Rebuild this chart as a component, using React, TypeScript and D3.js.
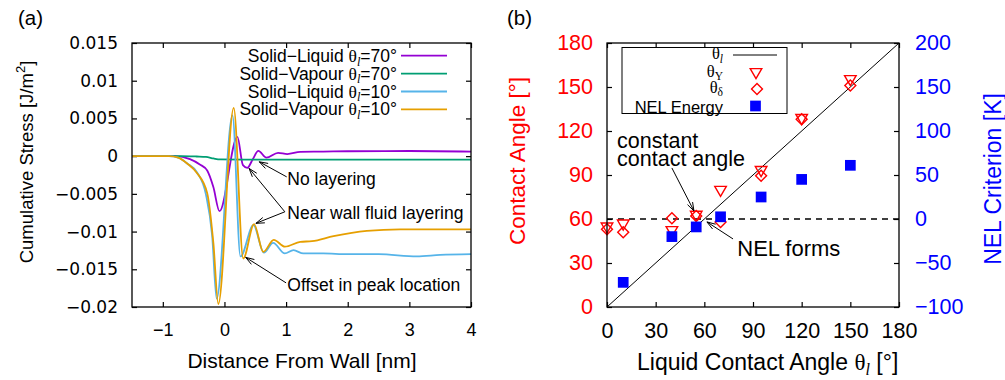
import React, { useRef, useEffect } from "react";
import * as d3 from "d3";

// ---------- panel (a): cumulative stress vs distance from wall ----------
const sl70X = [-1.5, -0.8, -0.56, -0.4, -0.28, -0.18, -0.08, 0.21, 0.3, 0.37, 0.46, 0.55, 0.68, 0.87, 1.02, 1.23, 1.6, 2.0, 3.0, 4.0];
const sl70Y = [0, 0, -0.0004, -0.0011, -0.0019, -0.0041, -0.0073, 0.00256, -0.0012, -0.00155, -0.0004, 0.0007, -0.0002, 0.00044, 0.00027, 0.00057, 0.0006, 0.00065, 0.00068, 0.0006];

const sv70X = [-1.5, -0.7, -0.45, -0.3, -0.18, -0.07, 0.3, 1, 2, 3, 4];
const sv70Y = [0, 0, -0.00005, -0.0001, -0.0003, -0.00044, -0.00045, -0.00045, -0.00045, -0.00045, -0.00045];

const sl10X = [-1.5, -0.9, -0.75, -0.6, -0.45, -0.3, -0.2, -0.127, 0.13, 0.26, 0.47, 0.64, 0.79, 0.98, 1.12, 1.28, 1.6, 2.0, 2.5, 3.12, 3.5, 4.0];
const sl10Y = [0, 0, -0.0002, -0.001, -0.0021, -0.0051, -0.0105, -0.0189, 0.0054, -0.0133, -0.00915, -0.0128, -0.0115, -0.0129, -0.01247, -0.0129, -0.0129, -0.013, -0.013, -0.0133, -0.0131, -0.013];

const sv10X = [-1.5, -0.9, -0.75, -0.6, -0.45, -0.28, -0.18, -0.1, 0.15, 0.305, 0.48, 0.63, 0.8, 0.98, 1.23, 1.42, 1.77, 2.31, 2.85, 3.5, 4.0];
const sv10Y = [0, 0, -0.0002, -0.001, -0.0022, -0.0049, -0.0115, -0.0196, 0.0064, -0.01357, -0.009, -0.0127, -0.0111, -0.012, -0.01136, -0.01127, -0.0106, -0.0099, -0.0097, -0.0097, -0.0097];

const distTicks = [-1, 0, 1, 2, 3, 4];
const distTickLabels = ["−1", "0", "1", "2", "3", "4"];
const stressTicks = [-0.02, -0.015, -0.01, -0.005, 0, 0.005, 0.01, 0.015];
const stressTickLabels = ["−0.02", "−0.015", "−0.01", "−0.005", "0", "0.005", "0.01", "0.015"];

// ---------- panel (b): contact angles and NEL criterion ----------
const liquidAngle = [0, 10, 40, 55, 70, 95, 120, 150];
const youngAngle = [55, 57, 52.5, 63, 80, 93.5, 129, 155.5];
const deltaAngle = [53, 51, 60.5, 62, 58, 89.5, 128, 151];
const nelAngle = [10, 40, 55, 70, 95, 120, 150];
const nelEnergy = [-72, -20, -9, 2.5, 25, 45, 61];
const angleTicks = [0, 30, 60, 90, 120, 150, 180];
const nelTicks = [-100, -50, 0, 50, 100, 150, 200];

const FONT = "'Liberation Sans', Arial, sans-serif";
const WIDE = "'DejaVu Sans', sans-serif";
const SERIF = "'Liberation Serif', 'DejaVu Serif', serif";
const RED = "#ff0000";
const BLUE = "#0000ff";

const DrawFigure = (elt: SVGSVGElement) => {
  const svg = d3.select(elt);
  svg.selectAll("*").remove();
  svg.attr("font-family", FONT);

  const arrow = (x1: number, y1: number, x2: number, y2: number) => {
    svg.append("line").attr("x1", x1).attr("y1", y1).attr("x2", x2).attr("y2", y2)
      .attr("stroke", "black").attr("stroke-width", 1);
    const ang = Math.atan2(y2 - y1, x2 - x1);
    const len = 9, spread = 0.32;
    const p1 = [x2 - len * Math.cos(ang - spread), y2 - len * Math.sin(ang - spread)];
    const p2 = [x2 - len * Math.cos(ang + spread), y2 - len * Math.sin(ang + spread)];
    svg.append("path").attr("d", `M${p1[0]},${p1[1]}L${x2},${y2}L${p2[0]},${p2[1]}`)
      .attr("fill", "none").attr("stroke", "black").attr("stroke-width", 1);
  };

  const thetaText = (x: number, y: number, pre: string, sub: string, post: string, size: number, anchor: string, italicSub: boolean) => {
    const t = svg.append("text").attr("x", x).attr("y", y).attr("font-size", size)
      .attr("text-anchor", anchor).attr("fill", "black");
    if (pre) t.append("tspan").text(pre);
    t.append("tspan").attr("font-family", SERIF).text("θ");
    t.append("tspan").attr("font-size", size * 0.7).attr("font-family", SERIF)
      .attr("font-style", italicSub ? "italic" : "normal").attr("dy", size * 0.22).text(sub);
    if (post) t.append("tspan").attr("dy", -size * 0.22).text(post);
    return t;
  };

  // ================= panel (a) =================
  const a = { left: 132, right: 471, top: 43, bottom: 307 };
  const xA = d3.scaleLinear().domain([-1.5, 4]).range([a.left, a.right]);
  const yA = d3.scaleLinear().domain([-0.02, 0.015]).range([a.bottom, a.top]);

  const styleAxis = (g: any, size: number, fill: string, family: string) => {
    g.select(".domain").remove();
    g.attr("font-family", family).attr("font-size", size).attr("color", "black");
    g.selectAll("line").attr("stroke-width", 1.2);
    g.selectAll("text").attr("fill", fill);
  };

  svg.append("g").attr("transform", `translate(0,${a.bottom})`)
    .call(d3.axisBottom(xA).tickValues(distTicks).tickFormat((d, i) => distTickLabels[i]).tickSizeInner(-5).tickSizeOuter(0).tickPadding(16))
    .call((g: any) => styleAxis(g, 18, "black", FONT));
  svg.append("g").attr("transform", `translate(0,${a.top})`)
    .call(d3.axisTop(xA).tickValues(distTicks).tickFormat(() => "").tickSizeInner(-5).tickSizeOuter(0))
    .call((g: any) => styleAxis(g, 18, "black", FONT));
  svg.append("g").attr("transform", `translate(${a.left},0)`)
    .call(d3.axisLeft(yA).tickValues(stressTicks).tickFormat((d, i) => stressTickLabels[i]).tickSizeInner(-5).tickSizeOuter(0).tickPadding(14))
    .call((g: any) => styleAxis(g, 17, "black", WIDE));
  svg.append("g").attr("transform", `translate(${a.right},0)`)
    .call(d3.axisRight(yA).tickValues(stressTicks).tickFormat(() => "").tickSizeInner(-5).tickSizeOuter(0))
    .call((g: any) => styleAxis(g, 17, "black", FONT));

  const seriesA = [
    { xs: sl70X, ys: sl70Y, color: "#9400d3", label: ["Solid−Liquid ", "l", "=70°"] },
    { xs: sv70X, ys: sv70Y, color: "#009e73", label: ["Solid−Vapour ", "l", "=70°"] },
    { xs: sl10X, ys: sl10Y, color: "#56b4e9", label: ["Solid−Liquid ", "l", "=10°"] },
    { xs: sv10X, ys: sv10Y, color: "#e69f00", label: ["Solid−Vapour ", "l", "=10°"] },
  ];
  const lineA = d3.line<[number, number]>()
    .x((d) => xA(d[0]))
    .y((d) => yA(d[1]))
    .curve(d3.curveMonotoneX);

  seriesA.forEach((s, k) => {
    const pts = s.xs.map((x, i) => [x, s.ys[i]] as [number, number]);
    svg.append("path")
      .attr("d", lineA(pts))
      .attr("fill", "none").attr("stroke", s.color).attr("stroke-width", 1.8);
    // legend
    const ly = 55.7 + k * 17.9;
    thetaText(397, ly + 6, s.label[0], s.label[1], s.label[2], 17.5, "end", true);
    svg.append("line").attr("x1", 401).attr("x2", 447).attr("y1", ly).attr("y2", ly)
      .attr("stroke", s.color).attr("stroke-width", 1.8);
  });

  svg.append("rect").attr("x", a.left).attr("y", a.top).attr("width", a.right - a.left).attr("height", a.bottom - a.top)
    .attr("fill", "none").attr("stroke", "black").attr("stroke-width", 1.3);

  // annotations (a)
  const noteA = (x: number, y: number, txt: string) =>
    svg.append("text").attr("x", xA(x)).attr("y", yA(y)).attr("font-size", 17.5).text(txt);
  noteA(1.02, -0.00383, "No layering");
  arrow(xA(1.01), yA(-0.00275), xA(0.565), yA(-0.00075));
  noteA(1.02, -0.00835, "Near wall fluid layering");
  arrow(xA(0.98), yA(-0.00738), xA(0.4), yA(-0.00163));
  arrow(xA(0.98), yA(-0.00738), xA(0.51), yA(-0.00891));
  noteA(1.02, -0.01789, "Offset in peak location");
  arrow(xA(1.0), yA(-0.0168), xA(0.344), yA(-0.01342));

  // axis labels (a)
  const yl = svg.append("text").attr("transform", "translate(33,162) rotate(-90)")
    .attr("text-anchor", "middle").attr("font-size", 18.5);
  yl.append("tspan").text("Cumulative Stress [J/m");
  yl.append("tspan").attr("font-size", 13).attr("dy", -8).text("2");
  yl.append("tspan").attr("dy", 8).text("]");
  svg.append("text").attr("x", 302).attr("y", 368).attr("text-anchor", "middle").attr("font-size", 21)
    .text("Distance From Wall [nm]");
  svg.append("text").attr("x", 18).attr("y", 25).attr("font-size", 20.5).text("(a)");

  // ================= panel (b) =================
  const b = { left: 607, right: 899, top: 43, bottom: 307 };
  const xB = d3.scaleLinear().domain([0, 180]).range([b.left, b.right]);
  const yB = d3.scaleLinear().domain([0, 180]).range([b.bottom, b.top]);
  const y2B = d3.scaleLinear().domain([-100, 200]).range([b.bottom, b.top]);

  svg.append("g").attr("transform", `translate(0,${b.bottom})`)
    .call(d3.axisBottom(xB).tickValues(angleTicks).tickFormat(d3.format("d")).tickSizeInner(-5).tickSizeOuter(0).tickPadding(16))
    .call((g: any) => styleAxis(g, 21.5, "black", FONT));
  svg.append("g").attr("transform", `translate(0,${b.top})`)
    .call(d3.axisTop(xB).tickValues(angleTicks).tickFormat(() => "").tickSizeInner(-5).tickSizeOuter(0))
    .call((g: any) => styleAxis(g, 21.5, "black", FONT));
  svg.append("g").attr("transform", `translate(${b.left},0)`)
    .call(d3.axisLeft(yB).tickValues(angleTicks).tickFormat(d3.format("d")).tickSizeInner(-5).tickSizeOuter(0).tickPadding(14))
    .call((g: any) => styleAxis(g, 21.5, RED, FONT));
  svg.append("g").attr("transform", `translate(${b.right},0)`)
    .call(d3.axisRight(y2B).tickValues(nelTicks).tickFormat(d3.format("d")).tickSizeInner(-5).tickSizeOuter(0).tickPadding(16))
    .call((g: any) => styleAxis(g, 21.5, BLUE, FONT));

  // reference lines
  svg.append("path")
    .attr("d", d3.line<number>().x((d) => xB(d)).y((d) => yB(d))([0, 180]))
    .attr("stroke", "black").attr("stroke-width", 1).attr("fill", "none");
  svg.append("line").attr("x1", b.left).attr("x2", b.right).attr("y1", y2B(0)).attr("y2", y2B(0))
    .attr("stroke", "black").attr("stroke-width", 1.3).attr("stroke-dasharray", "6,5");

  const triDown = d3.symbol().type(d3.symbolTriangle).size(58);
  const diamond = d3.symbol().type(d3.symbolSquare).size(60);
  const square = d3.symbol().type(d3.symbolSquare).size(115);

  liquidAngle.forEach((x, i) => {
    svg.append("path").attr("d", diamond()).attr("transform", `translate(${xB(x)},${yB(deltaAngle[i])}) rotate(45)`)
      .attr("fill", "none").attr("stroke", RED).attr("stroke-width", 1.4);
    svg.append("path").attr("d", triDown()).attr("transform", `translate(${xB(x)},${yB(youngAngle[i])}) rotate(180)`)
      .attr("fill", "none").attr("stroke", RED).attr("stroke-width", 1.4);
  });
  nelAngle.forEach((x, i) => {
    svg.append("path").attr("d", square()).attr("transform", `translate(${xB(x)},${y2B(nelEnergy[i])})`)
      .attr("fill", BLUE);
  });

  svg.append("rect").attr("x", b.left).attr("y", b.top).attr("width", b.right - b.left).attr("height", b.bottom - b.top)
    .attr("fill", "none").attr("stroke", "black").attr("stroke-width", 1.3);

  // legend (b)
  svg.append("rect").attr("x", 622).attr("y", 47.5).attr("width", 165).attr("height", 66)
    .attr("fill", "white").attr("stroke", "black").attr("stroke-width", 1);
  thetaText(723, 59, "", "l", "", 16.5, "end", true);
  svg.append("line").attr("x1", 733).attr("x2", 777).attr("y1", 55).attr("y2", 55).attr("stroke", "black").attr("stroke-width", 1);
  thetaText(723, 76.5, "", "Y", "", 16.5, "end", false);
  svg.append("path").attr("d", triDown()).attr("transform", "translate(756,72) rotate(180)")
    .attr("fill", "none").attr("stroke", RED).attr("stroke-width", 1.4);
  thetaText(723, 92.5, "", "δ", "", 16.5, "end", false);
  svg.append("path").attr("d", diamond()).attr("transform", "translate(757,89) rotate(45)")
    .attr("fill", "none").attr("stroke", RED).attr("stroke-width", 1.4);
  svg.append("text").attr("x", 723).attr("y", 112.5).attr("text-anchor", "end").attr("font-size", 16.5).text("NEL Energy");
  svg.append("path").attr("d", square()).attr("transform", "translate(755.5,106)").attr("fill", BLUE);

  // annotations (b)
  const noteB = (x: number, y: number, txt: string, size: number) =>
    svg.append("text").attr("x", xB(x)).attr("y", yB(y)).attr("font-size", size).text(txt);
  noteB(6.2, 108.6, "constant", 21.5);
  noteB(6.2, 96, "contact angle", 21.5);
  arrow(xB(40), yB(94.8), xB(53.6), yB(65.5));
  noteB(80.3, 34.8, "NEL forms", 22);
  arrow(xB(77.7), yB(46.4), xB(61.6), yB(58));

  // axis labels (b)
  svg.append("text").attr("transform", "translate(525,161) rotate(-90)").attr("text-anchor", "middle")
    .attr("font-size", 22.5).attr("fill", RED).text("Contact Angle [°]");
  svg.append("text").attr("transform", "translate(1001,179) rotate(-90)").attr("text-anchor", "middle")
    .attr("font-size", 23).attr("fill", BLUE).text("NEL Criterion [K]");
  thetaText(637, 370, "Liquid Contact Angle ", "l", " [°]", 23, "start", true);
  svg.append("text").attr("x", 507).attr("y", 25).attr("font-size", 20.5).text("(b)");
};

const App = () => {
  const ref = useRef<SVGSVGElement | null>(null);

  useEffect(() => {
    if (ref.current) {
      DrawFigure(ref.current);
    }
  }, []);

  return (
    <svg ref={ref} width={1005} height={380}
      style={{ position: "absolute", left: 0, top: 0, background: "white" }} />
  );
};

export default App;
